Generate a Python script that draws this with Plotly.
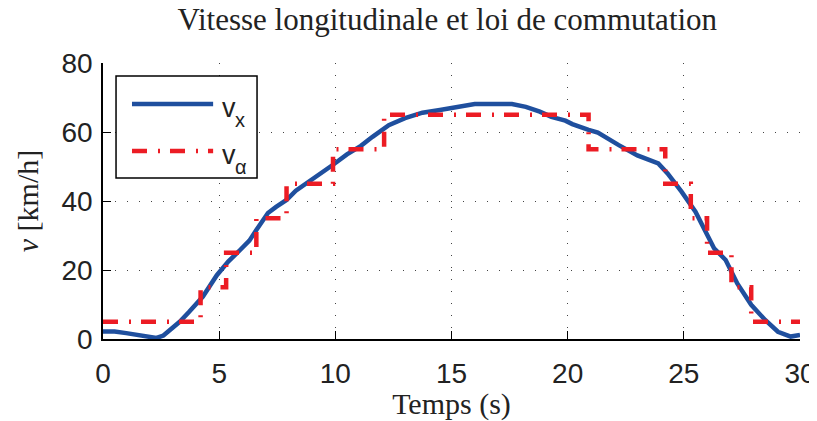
import plotly.graph_objects as go

# vitesse longitudinale mesuree (km/h)
temps_vx = [0, 0.5, 1.0, 1.5, 2.0, 2.3, 2.6, 3.0, 3.3, 3.7, 4.3, 4.9, 5.4, 5.9, 6.3, 6.6,
            7.1, 7.45, 7.9, 8.3, 8.8, 9.3, 9.9, 10.5, 11.1, 11.6, 12.3, 13.0, 13.75, 14.5,
            15.2, 16.0, 17.6, 18.2, 18.8, 19.3, 19.9, 20.2, 20.9, 21.3, 22.2, 23.0, 23.9,
            24.3, 24.9, 25.5, 25.9, 26.3, 26.8, 27.3, 27.9, 28.5, 29.05, 29.6, 30]
vx = [2.2, 2.2, 1.7, 1.2, 0.8, 0.3, 1.0, 3.2, 5.0, 7.8, 12.3, 18.5, 22.5, 25.8, 28.5, 31.6,
      36.5, 38.3, 40.3, 43.0, 45.3, 47.5, 50.5, 53.5, 56.0, 58.6, 62.0, 64.0, 65.6, 66.4,
      67.3, 68.1, 68.1, 67.3, 65.9, 64.4, 63.3, 62.3, 60.6, 59.8, 56.2, 53.2, 50.9,
      48.0, 42.7, 36.9, 31.6, 26.3, 22.9, 16.1, 9.9, 5.5, 2.1, 0.7, 1.2]

# loi de commutation (paliers)
temps_va = [0, 4.2, 5.3, 6.6, 7.9, 9.9, 12.1, 20.9, 24.2, 25.3, 26.0, 27.05, 27.9, 30]
va = [5, 15, 25, 35, 45, 55, 65, 55, 45, 35, 25, 15, 5, 5]

x_ticks = [0, 5, 10, 15, 20, 25, 30]
y_ticks = [0, 20, 40, 60, 80]

BLUE = "#1f4f9e"
RED = "#ec1c24"
DASHDOT = "15px,11px,2px,10px"
SERIF = "Liberation Serif"
SANS = "Liberation Sans"
INK = "#222"

fig = go.Figure()

fig.add_trace(go.Scatter(x=temps_vx, y=vx, mode="lines", name="v<sub>x</sub>",
                         line=dict(color=BLUE, width=4.5), showlegend=False))
fig.add_trace(go.Scatter(x=temps_va, y=va, mode="lines", name="v<sub>α</sub>",
                         line=dict(color=RED, width=4.5, dash=DASHDOT, shape="hv"),
                         showlegend=False))

axis_common = dict(
    showline=True, linecolor="black", linewidth=1.5, mirror=False,
    ticks="inside", ticklen=8, tickwidth=1.2, tickcolor="black",
    showgrid=True, gridcolor="#444", gridwidth=1, griddash="1px,11px",
    zeroline=False, automargin=False,
    tickfont=dict(family=SANS, size=28, color=INK),
)

fig.update_xaxes(range=[0, 30], tickvals=x_ticks, ticklabelstandoff=9,
                 title=dict(text="Temps (s)", font=dict(family=SERIF, size=30, color=INK),
                            standoff=0),
                 **axis_common)
fig.update_yaxes(range=[0, 80], tickvals=y_ticks, ticklabelstandoff=3,
                 title=dict(text="<i>v</i> [km/h]", font=dict(family=SERIF, size=30, color=INK),
                            standoff=14),
                 **axis_common)

# legende dessinee a la main (echantillons longs comme dans l'original)
fig.add_shape(type="rect", xref="paper", yref="paper", x0=0.0187, x1=0.221, y0=0.583, y1=0.953,
              line=dict(color="black", width=1.5), fillcolor="white", layer="above")
fig.add_shape(type="line", xref="paper", yref="paper", x0=0.0416, x1=0.158, y0=0.851, y1=0.851,
              line=dict(color=BLUE, width=4.5), layer="above")
fig.add_shape(type="line", xref="paper", yref="paper", x0=0.0416, x1=0.158, y0=0.681, y1=0.681,
              line=dict(color=RED, width=4.5, dash=DASHDOT), layer="above")
for yy, sub in [(0.851, "x"), (0.681, "α")]:
    fig.add_annotation(xref="paper", yref="paper", x=0.168, y=yy, text="v", showarrow=False,
                       xanchor="left", yanchor="middle", yshift=-4,
                       font=dict(family=SANS, size=27, color=INK))
    fig.add_annotation(xref="paper", yref="paper", x=0.186, y=yy, text=sub, showarrow=False,
                       xanchor="left", yanchor="middle", yshift=-16,
                       font=dict(family=SANS, size=20, color=INK))

# la page ajoute 8 px de marge autour du graphique : figure reduite d'autant
fig.update_layout(
    width=809, height=413,
    margin=dict(l=95, r=17, t=55, b=82),
    paper_bgcolor="white", plot_bgcolor="white",
    title=dict(text="Vitesse longitudinale et loi de commutation",
               font=dict(family=SERIF, size=31, color=INK),
               x=0.543, xanchor="center", y=0.972, yanchor="middle"),
    showlegend=False,
)

fig.write_html("out.html")
